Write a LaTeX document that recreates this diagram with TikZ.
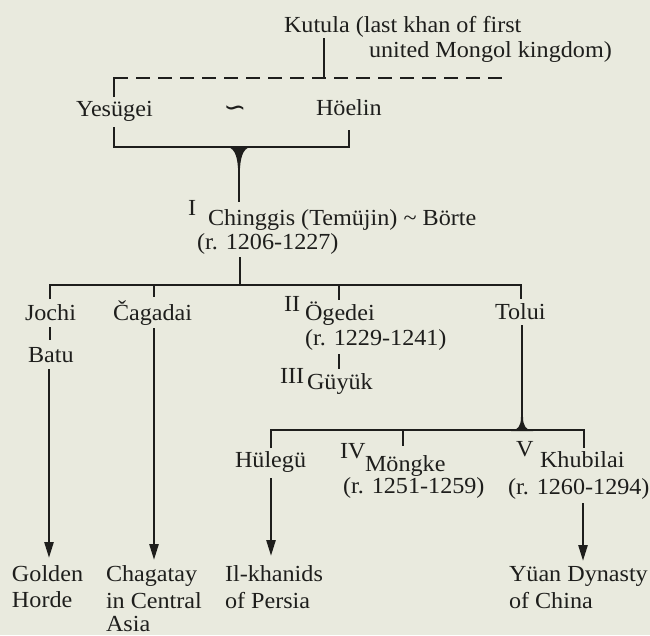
\documentclass[tikz,border=0pt]{standalone}
\usepackage{fontspec}
\setmainfont{Liberation Serif}[FakeStretch=1.05]
\newfontfamily\symfont{DejaVu Sans}
\usetikzlibrary{arrows.meta}
\definecolor{bg}{RGB}{233,234,222}
\definecolor{ink}{RGB}{30,30,28}
\begin{document}
\begin{tikzpicture}[x=1pt,y=-1pt,
  lbl/.style={anchor=base west, inner sep=0pt, outer sep=0pt, text=ink, font=\fontsize{23}{26}\selectfont},
  ln/.style={draw=ink, line width=2.5pt},
  dashln/.style={ln, dash pattern=on 14pt off 8pt},
  arr/.style={ln, -{Triangle[length=16pt,width=9pt]}},
  flare/.style={fill=ink, draw=none}]
\fill[bg] (0,0) rectangle (650,635);
\useasboundingbox (0,0) rectangle (650,635);

% texts
\node[lbl] (kut1) at (284,32) {Kutula (last khan of first};
\node[lbl] (kut2) at (369,57) {united Mongol kingdom)};
\node[lbl] (yes) at (76,116) {Yesügei};
\node[anchor=center, inner sep=0pt, text=ink, font=\symfont\fontsize{27}{30}\selectfont] (wave) at (235,111) {∽};
\node[lbl] (hoe) at (316,115) {Höelin};
\node[lbl] (rI) at (188,215) {I};
\node[lbl] (ching) at (208,225) {Chinggis (Temüjin) \textasciitilde{} Börte};
\node[lbl] (r1206) at (197,249) {(r. 1206-1227)};
\node[lbl] (jochi) at (25,320) {Jochi};
\node[lbl] (cag) at (113,320) {Čagadai};
\node[lbl] (rII) at (284,311) {II};
\node[lbl] (oge) at (305,320) {Ögedei};
\node[lbl] (r1229) at (305,345) {(r. 1229-1241)};
\node[lbl] (tolui) at (495,319) {Tolui};
\node[lbl] (batu) at (28,362) {Batu};
\node[lbl] (rIII) at (280,383) {III};
\node[lbl] (guy) at (307,389) {Güyük};
\node[lbl] (hul) at (235,467) {Hülegü};
\node[lbl] (rIV) at (340,458) {IV};
\node[lbl] (mon) at (365,471) {Möngke};
\node[lbl] (r1251) at (343,493) {(r. 1251-1259)};
\node[lbl] (rV) at (516,456) {V};
\node[lbl] (khu) at (540,467) {Khubilai};
\node[lbl] (r1260) at (508,494) {(r. 1260-1294)};
\node[lbl] (gold1) at (12,581) {Golden};
\node[lbl] (gold2) at (12,607) {Horde};
\node[lbl] (cha1) at (106,581) {Chagatay};
\node[lbl] (cha2) at (106,608) {in Central};
\node[lbl, text depth=0pt] (cha3) at (106,631) {Asia};
\node[lbl] (il1) at (225,581) {Il-khanids};
\node[lbl] (il2) at (225,608) {of Persia};
\node[lbl] (yu1) at (509,581) {Yüan Dynasty};
\node[lbl] (yu2) at (509,608) {of China};

% junction coordinates
\coordinate (kTop) at (324,38);
\coordinate (kBot) at (324,78);
\coordinate (dL) at (114,78);
\coordinate (dR) at (504,78);
\coordinate (yTop) at (114,97);
\coordinate (bL) at (114,127);
\coordinate (bLc) at (114,147);
\coordinate (bRc) at (349,147);
\coordinate (bR) at (349,130);
\coordinate (sTop) at (239,147);
\coordinate (sBot) at (239,202);
\coordinate (cTop) at (240,257);
\coordinate (cBot) at (240,285);
\coordinate (barL) at (50,285);
\coordinate (barR) at (521,285);
\coordinate (jD) at (50,299);
\coordinate (cagT) at (154,285);
\coordinate (cagD) at (154,297);
\coordinate (ogT) at (339,285);
\coordinate (ogD) at (339,300);
\coordinate (toD) at (521,299);
\coordinate (jbT) at (50,327);
\coordinate (jbB) at (50,340);
\coordinate (baT) at (49,369);
\coordinate (baB) at (49,558);
\coordinate (caT) at (154,328);
\coordinate (caB) at (154,560);
\coordinate (ggT) at (339,354);
\coordinate (ggB) at (339,369);
\coordinate (tlT) at (522,325);
\coordinate (tlB) at (522,430);
\coordinate (b2L) at (271,430);
\coordinate (b2R) at (584,430);
\coordinate (huD) at (271,448);
\coordinate (moT) at (403,430);
\coordinate (moD) at (403,446);
\coordinate (khD) at (584,448);
\coordinate (huT) at (271,478);
\coordinate (huB) at (271,556);
\coordinate (khT) at (583,503);
\coordinate (khB) at (583,561);

% connectors
\draw[ln] (kTop) -- (kBot);
\draw[dashln] (dL) -- (dR);
\draw[ln] (yTop) -- (dL) -- ++(8,0);
\draw[ln] (bL) -- (bLc) -- (bRc) -- (bR);
\draw[ln] (sTop) -- (sBot);
\fill[flare] (224,146) .. controls (234,147) and (237,154) .. (238,168) -- (240,168) .. controls (241,154) and (244,147) .. (254,146) -- cycle;
\draw[ln] (cTop) -- (cBot);
\draw[ln] (jD) -- (barL) -- (barR) -- (toD);
\draw[ln] (cagT) -- (cagD);
\draw[ln] (ogT) -- (ogD);
\draw[ln] (jbT) -- (jbB);
\draw[arr] (baT) -- (baB);
\draw[arr] (caT) -- (caB);
\draw[ln] (ggT) -- (ggB);
\draw[ln] (tlT) -- (tlB);
\fill[flare] (511,431) .. controls (518,430) and (521,426) .. (521,417) -- (523,417) .. controls (523,426) and (526,430) .. (533,431) -- cycle;
\draw[ln] (huD) -- (b2L) -- (b2R) -- (khD);
\draw[ln] (moT) -- (moD);
\draw[arr] (huT) -- (huB);
\draw[arr] (khT) -- (khB);
\end{tikzpicture}
\end{document}
